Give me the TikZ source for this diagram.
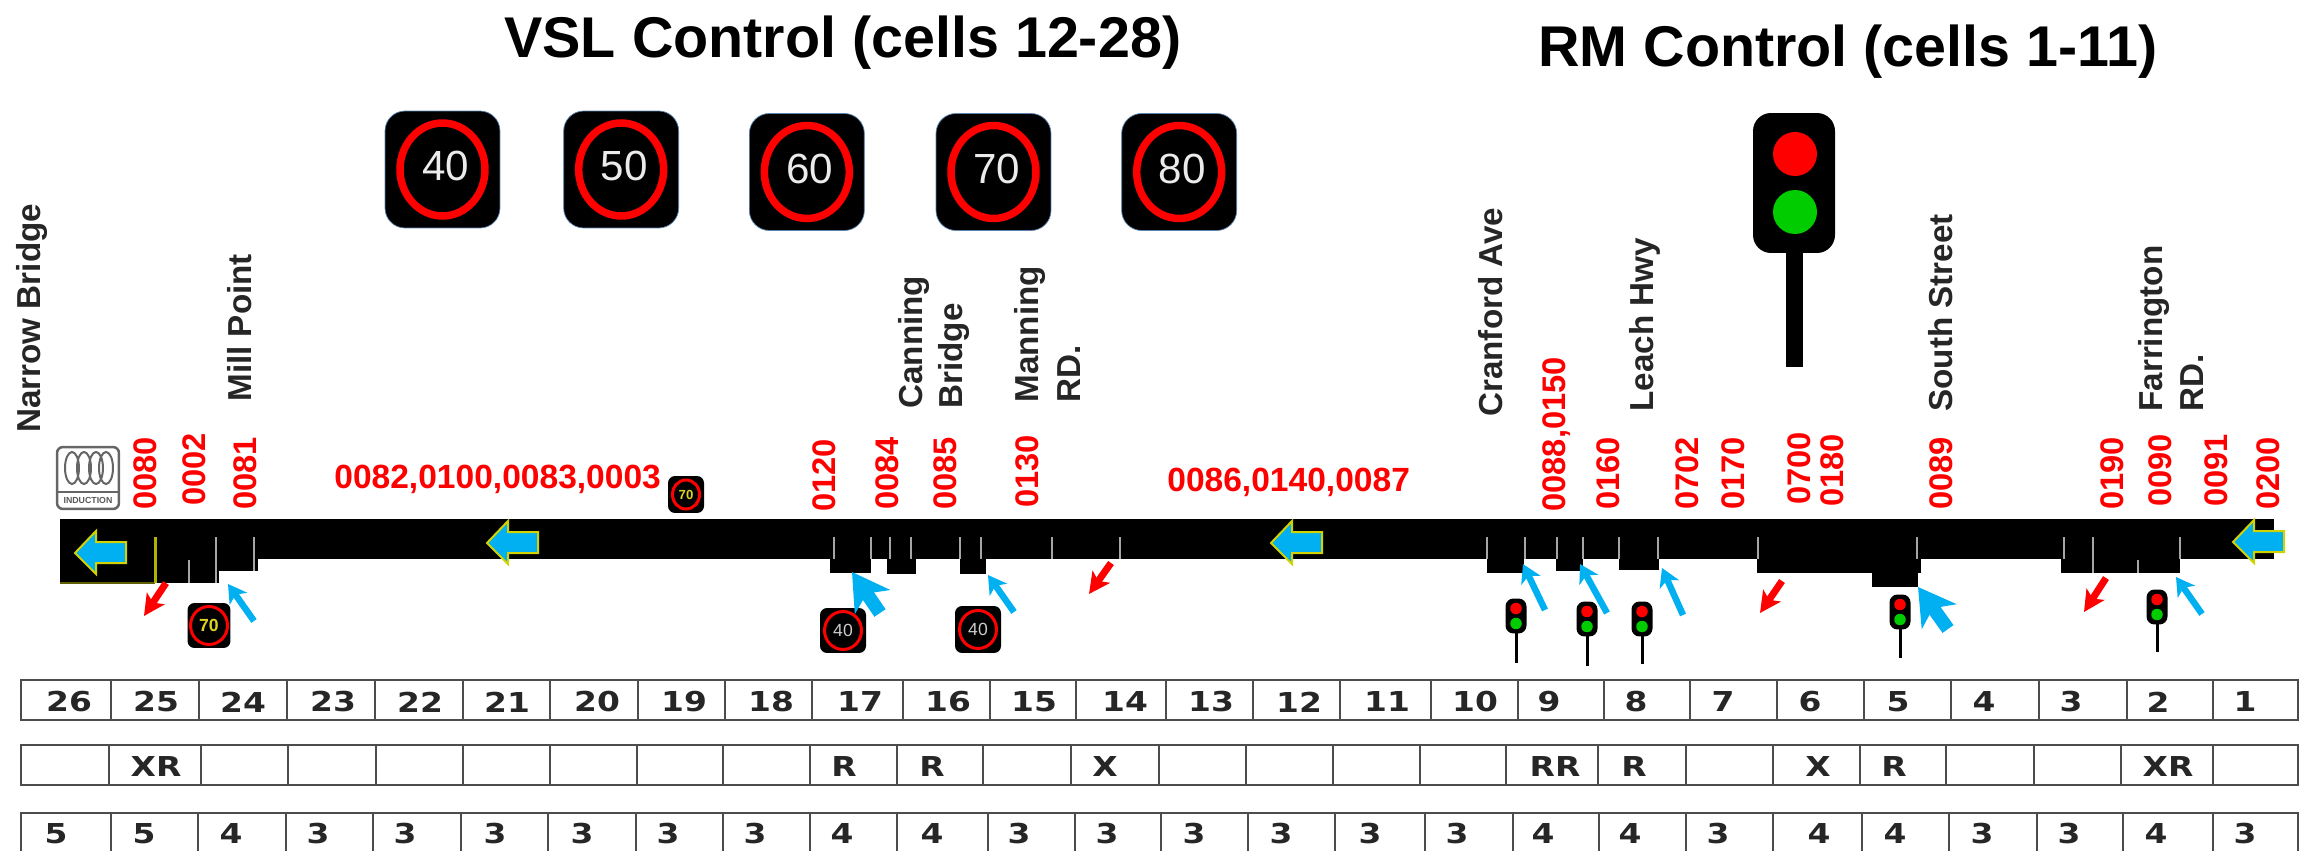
\documentclass[tikz,border=0pt]{standalone}
\usepackage{xcolor}
\usepackage{fontspec}
\setmainfont{Liberation Sans}
\newfontfamily\cellfont[FakeStretch=1.2]{DejaVu Sans}
\usepackage{tikz}
\usetikzlibrary{arrows.meta, positioning, shapes.geometric}
\definecolor{flowblue}{HTML}{00B0F0}
\definecolor{flowedge}{HTML}{D2D200}
\definecolor{lampgreen}{HTML}{00CC00}
\definecolor{signedge}{HTML}{5B85B0}

\begin{document}
\begin{tikzpicture}[
  x=0.02cm, y=-0.02cm,
  title/.style={font=\fontsize{32.7}{36}\selectfont\bfseries, anchor=base west, inner sep=0pt},
  street/.style={font=\fontsize{18.9}{24}\selectfont\bfseries, text=black!85, rotate=90, anchor=base west, inner sep=0pt},
  detector/.style={font=\fontsize{18.6}{22}\selectfont\bfseries, text=red, rotate=90, anchor=base west, inner sep=0pt},
  detgroup/.style={font=\fontsize{19.1}{22}\selectfont\bfseries, text=red, anchor=base west, inner sep=0pt},
  vslbox/.style={fill=black, draw=signedge, line width=0.4pt, rounded corners=0.4cm, minimum width=2.3cm, minimum height=2.34cm, inner sep=0pt},
  vslring/.style={ellipse, draw=red, line width=0.15cm, minimum width=1.7cm, minimum height=1.86cm, inner sep=0pt, text depth=0.14cm, text=white!92!black, font=\fontsize{24}{26}\selectfont},
  minibox/.style={fill=black, rounded corners=0.14cm, minimum width=0.86cm, minimum height=0.9cm, inner sep=0pt},
  miniring/.style={ellipse, draw=red, line width=0.06cm, minimum width=0.74cm, minimum height=0.76cm, inner sep=0pt, font=\fontsize{10}{10}\selectfont\bfseries},
  lampbox/.style={fill=black, rounded corners=0.16cm, minimum width=0.42cm, minimum height=0.7cm, inner sep=0pt, outer sep=0pt},
  lamp/.style={circle, inner sep=0pt, minimum size=0.23cm},
  pole/.style={line width=0.06cm},
  flow/.style={fill=flowblue, draw=flowedge, line width=0.04cm, line join=miter},
  tick/.style={draw=black!35, line width=0.035cm},
  inarr/.style={-{Stealth[length=0.36cm, width=0.42cm, inset=0.1cm]}, flowblue, line width=0.13cm},
  inbig/.style={-{Stealth[length=0.72cm, width=0.84cm, inset=0.2cm]}, flowblue, line width=0.27cm},
  outarr/.style={-{Stealth[length=0.42cm, width=0.42cm, inset=0.1cm]}, red, line width=0.14cm},
  cellline/.style={draw=black!70, line width=0.045cm},
  celltext/.style={font=\cellfont\bfseries\fontsize{15.6}{18}\selectfont, inner sep=0pt, text=black!85}
]
  \useasboundingbox (0,0) rectangle (2300,851);

  \node[title] (vsltitle) at (504,58) {VSL Control (cells 12-28)};
  \node[title] (rmtitle) at (1538,67) {RM Control (cells 1-11)};

  % signs on top
  \node[vslbox] (vsl40) at (442.5,169.5) {};
  \node[vslbox, right=1.26cm of vsl40] (vsl50) {};
  \node[vslbox, right=1.4cm of vsl50, yshift=-0.05cm] (vsl60) {};
  \node[vslbox, right=1.42cm of vsl60] (vsl70) {};
  \node[vslbox, right=1.4cm of vsl70] (vsl80) {};
  \foreach \v in {40,50,60,70,80}
    \node[vslring] (ring\v) at (vsl\v) {\hspace*{0.12cm}\v};

  % big light
  \node[fill=black, rounded corners=0.36cm, minimum width=1.64cm, minimum height=2.8cm, inner sep=0pt, outer sep=0pt] (bighead) at (1794,183) {};
  \coordinate (bigfoot) at (1794,367);
  \draw[line width=0.34cm] (bighead.south) -- (bigfoot);
  \node[circle, fill=red, minimum size=0.88cm, inner sep=0pt] (bigred) at (1795,154) {};
  \node[circle, fill=lampgreen, minimum size=0.88cm, inner sep=0pt] (biggreen) at (1795,212) {};

  % street names
  \node[street] (narrow) at (40,433) {Narrow Bridge};
  \node[street] (mill) at (251,402) {Mill Point};
  \node[street] (canning) at (922,409) {Canning};
  \node[street] (canningb) at (962,409) {Bridge};
  \node[street] (manning) at (1038,403) {Manning};
  \node[street] (manningb) at (1080,403) {RD.};
  \node[street] (cranford) at (1502,417) {Cranford Ave};
  \node[street] (leach) at (1653,412) {Leach Hwy};
  \node[street] (south) at (1952,412) {South Street};
  \node[street] (farr) at (2162,412) {Farrington};
  \node[street] (farrb) at (2203,412) {RD.};

  % detector ids
  \foreach \x/\y/\t in {156/510/0080, 205/506/0002, 256/510/0081, 835/512/0120, 898/510/0084, 956/510/0085, 1038/508/0130,
      1565/512/{0088,0150}, 1619/510/0160, 1698/510/0702, 1744/510/0170, 1810/505/0700, 1843/507/0180,
      1952/510/0089, 2123/510/0190, 2171/507/0090, 2227/507/0091, 2279/510/0200}
    \node[detector] (id\x) at (\x,\y) {\t};
  \node[detgroup] (groupa) at (334,488) {0082,0100,0083,0003};
  \node[detgroup] (groupb) at (1167,491) {0086,0140,0087};

  % induction icon
  \node[draw=black!60, fill=white, line width=0.05cm, rounded corners=0.12cm, minimum width=1.24cm, minimum height=1.24cm, inner sep=0pt] (coilbox) at (88,478) {};
  \foreach \x in {72,84,96,106}
    \draw[black!60, line width=0.04cm] (\x,468) ellipse [x radius=7, y radius=16];
  \draw[black!60, line width=0.04cm] (coilbox.west |- 0,492) -- (coilbox.east |- 0,492);
  \node[font=\fontsize{5}{5}\selectfont\bfseries, text=black!65, inner sep=0pt] (coiltext) at (88,500) {INDUCTION};

  % road
  \fill (60,519) rectangle (2274,559);
  \fill (60,559) rectangle (219,583);
  \fill (219,559) rectangle (258,571);
  \foreach \xa/\xb/\yb in {830/871/573, 887/916/574, 960/986/574, 1487/1524/573, 1556/1583/571, 1619/1659/570,
      1757/1921/573, 1872/1918/587, 2061/2180/573}
    \fill (\xa,559) rectangle (\xb,\yb);
  \draw[flowedge!45!black, line width=0.05cm] (60,583) -- (155,583);
  \foreach \x/\ya/\yb in {189/560/583, 216/537/583, 254/537/571, 834/537/559, 871/537/559, 890/537/559, 911/537/559,
      960/537/559, 981/537/559, 1052/537/559, 1120/537/559, 1487/537/559, 1525/537/559, 1557/537/559, 1583/537/559,
      1619/537/559, 1658/537/559, 1758/537/559, 1917/537/559, 2064/537/559, 2093/537/573, 2138/560/573, 2180/537/559}
    \draw[tick] (\x,\ya) -- (\x,\yb);
  \draw[flowedge!85!black, line width=0.05cm] (155.5,537) -- (155.5,583);

  % flow arrows
  \foreach \x/\y in {75/553, 487/543, 1271/543, 2233/542}
    \draw[flow] (\x,\y) -- ++(21,-22) -- ++(0,11) -- ++(30,0) -- ++(0,21) -- ++(-30,0) -- ++(0,11) -- cycle;

  % small signs
  \node[minibox] (s1) at (209,625.5) {};
  \node[miniring, text=yellow!85!black] (r1) at (s1) {70};
  \node[minibox, minimum width=0.72cm, minimum height=0.74cm] (s2) at (686,494.5) {};
  \node[miniring, text=yellow!85!black, minimum width=0.54cm, minimum height=0.58cm, font=\fontsize{7.5}{8}\selectfont\bfseries] (r2) at (s2) {70};
  \node[minibox, minimum width=0.92cm] (s3) at (843,630.5) {};
  \node[miniring, text=black!20, font=\fontsize{10}{10}\selectfont] (r3) at (s3) {40};
  \node[minibox, minimum width=0.92cm, minimum height=0.94cm] (s4) at (978,629.5) {};
  \node[miniring, text=black!20, font=\fontsize{10}{10}\selectfont] (r4) at (s4) {40};

  % small lights
  \foreach \i/\x/\y/\yb in {1/1516/616/663, 2/1587/619/666, 3/1642/619/664, 4/1900/612/658, 5/2157/607/652} {
    \node[lampbox] (head\i) at (\x,\y) {};
    \coordinate (foot\i) at (\x,\yb);
    \draw[pole] (head\i.south) -- (foot\i);
    \node[lamp, fill=red] (red\i) at ([yshift=0.15cm]head\i.center) {};
    \node[lamp, fill=lampgreen] (green\i) at ([yshift=-0.15cm]head\i.center) {};
  }

  % on and off ramps
  \foreach \i/\xa/\ya/\xb/\yb/\kind in {1/254/621/228/584/inarr, 2/880/613/852/572/inbig, 3/1014/612/988/575/inarr,
      4/1545/610/1523/564/inarr, 5/1607/613/1580/564/inarr, 6/1683/615/1662/568/inarr, 7/1948/629/1918/587/inbig,
      8/2202/614/2176/577/inarr, 9/166/583/144/616/outarr, 10/1111/563/1089/594/outarr, 11/1782/581/1760/613/outarr,
      12/2106/578/2084/612/outarr} {
    \coordinate (ramp\i a) at (\xa,\ya);
    \coordinate (ramp\i b) at (\xb,\yb);
    \draw[\kind] (ramp\i a) -- (ramp\i b);
  }

  % cell rows
  \foreach \xa/\xb/\xt/\t [count=\i] in {21/111/69/26, 111/199/156/25, 199/287/243/24, 287/375/333/23, 375/463/420/22, 463/550/507/21,
      550/638/597/20, 638/725/684/19, 725/812/771/18, 812/903/860/17, 903/990/948/16, 990/1076/1034/15, 1076/1166/1125/14,
      1166/1253/1211/13, 1253/1340/1299/12, 1340/1431/1387/11, 1431/1518/1475/10, 1518/1604/1549/9, 1604/1690/1636/8,
      1690/1777/1723/7, 1777/1864/1810/6, 1864/1951/1898/5, 1951/2039/1984/4, 2039/2127/2071/3, 2127/2213/2158/2, 2213/2298/2245/1} {
    \draw[cellline] (\xa,680) rectangle (\xb,720);
    \node[celltext] (cell\i) at (\xt,702) {\t};
  }
  \foreach \xa/\xb in {21/109, 109/201, 201/288, 288/376, 376/463, 463/550, 550/637, 637/723, 723/810, 810/897, 897/983, 983/1071, 1071/1159,
      1159/1246, 1246/1333, 1333/1420, 1420/1506, 1506/1598, 1598/1686, 1686/1773, 1773/1860, 1860/1946, 1946/2034, 2034/2121, 2121/2213, 2213/2298}
    \draw[cellline] (\xa,745) rectangle (\xb,785);
  \foreach \x/\t [count=\i] in {156/XR, 844/R, 932/R, 1105/X, 1555/RR, 1634/R, 1818/X, 1894/R, 2168/XR}
    \node[celltext] (flag\i) at (\x,767) {\t};
  \foreach \xa/\xb/\xt/\t [count=\i] in {21/111/56/5, 111/198/144/5, 198/286/231/4, 286/373/318/3, 373/461/405/3, 461/548/495/3, 548/636/582/3, 636/723/668/3,
      723/810/755/3, 810/897/842/4, 897/988/932/4, 988/1075/1019/3, 1075/1161/1107/3, 1161/1248/1194/3, 1248/1335/1281/3, 1335/1425/1370/3, 1425/1513/1457/3,
      1513/1599/1543/4, 1599/1686/1630/4, 1686/1773/1718/3, 1773/1862/1819/4, 1862/1949/1895/4, 1949/2037/1982/3, 2037/2123/2069/3, 2123/2213/2156/4, 2213/2298/2245/3} {
    \draw[cellline] (\xa,813) rectangle (\xb,858);
    \node[celltext] (lane\i) at (\xt,834) {\t};
  }
\end{tikzpicture}
\end{document}
